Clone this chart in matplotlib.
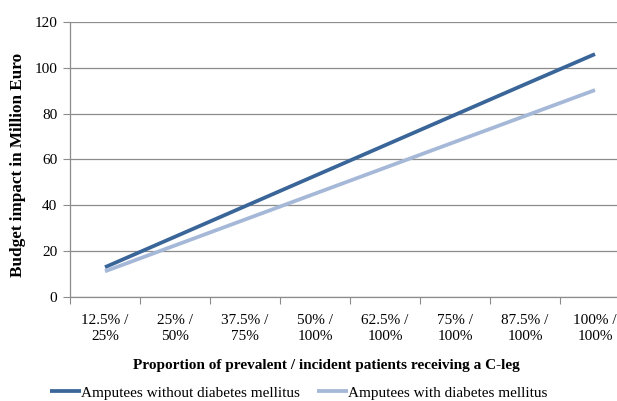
import matplotlib
matplotlib.use("Agg")
import matplotlib.pyplot as plt
import numpy as np

categories = ["12.5% /\n25%", "25% /\n50%", "37.5% /\n75%", "50% /\n100%",
              "62.5% /\n100%", "75% /\n100%", "87.5% /\n100%", "100% /\n100%"]
without_dm = [13.0, 26.3, 39.6, 52.9, 66.2, 79.5, 92.8, 106.0]
with_dm = [11.2, 22.5, 33.8, 45.1, 56.4, 67.7, 79.0, 90.3]
yticks = [0, 20, 40, 60, 80, 100, 120]

plt.rcParams['font.family'] = ['Liberation Serif', 'DejaVu Serif']

fig = plt.figure(figsize=(6.17, 4.01), dpi=100)
W, H = 617, 401
ax = fig.add_axes([70 / W, (H - 297) / H, 560 / W, 275 / H])

x = np.arange(len(categories))
dark = '#3A6598'
light = '#A5B8D8'
ax.plot(x, without_dm, color=dark, lw=2.7, solid_capstyle='butt',
        label='Amputees without diabetes mellitus', zorder=3)
ax.plot(x, with_dm, color=light, lw=2.7, solid_capstyle='butt',
        label='Amputees with diabetes mellitus', zorder=3)

ax.set_xlim(-0.5, len(categories) - 0.5)
ax.set_ylim(0, 120)
ax.set_yticks(yticks)
ax.grid(axis='y', color='#8C8C8C', lw=0.9)
ax.set_axisbelow(True)

ax.set_xticks(np.arange(-0.5, len(categories), 1.0))
ax.set_xticklabels([])
ax.set_xticks(x, minor=True)
ax.set_xticklabels(categories, minor=True, fontsize=11, linespacing=1.3)
ax.tick_params(axis='x', which='major', length=5, color='#8C8C8C', direction='out')
ax.tick_params(axis='x', which='minor', length=0, pad=12.5)
ax.tick_params(axis='y', length=5, color='#8C8C8C', labelsize=11, pad=4)

for s in ['top', 'right']:
    ax.spines[s].set_visible(False)
for s in ['left', 'bottom']:
    ax.spines[s].set_color('#8C8C8C')
    ax.spines[s].set_linewidth(0.9)

ax.set_ylabel('Budget impact in Million Euro', fontsize=12.3, fontweight='bold')
ax.yaxis.set_label_coords((18 - 70) / 560, 0.5 - 5 / 275)
ax.set_xlabel('Proportion of prevalent / incident patients receiving a C-leg',
              fontsize=11, fontweight='bold')
ax.xaxis.set_label_coords((326 - 70) / 560, -(365 - 297) / 275)
ax.xaxis.label.set_va('center')
ax.yaxis.label.set_va('center')

fig.legend(loc='center left', bbox_to_anchor=(50 / W, 0.02), ncol=2, frameon=False,
           borderpad=0, borderaxespad=0, handlelength=2.0, handletextpad=0.05,
           columnspacing=1.1, fontsize=11)

fig.savefig('out.png', dpi=100)
